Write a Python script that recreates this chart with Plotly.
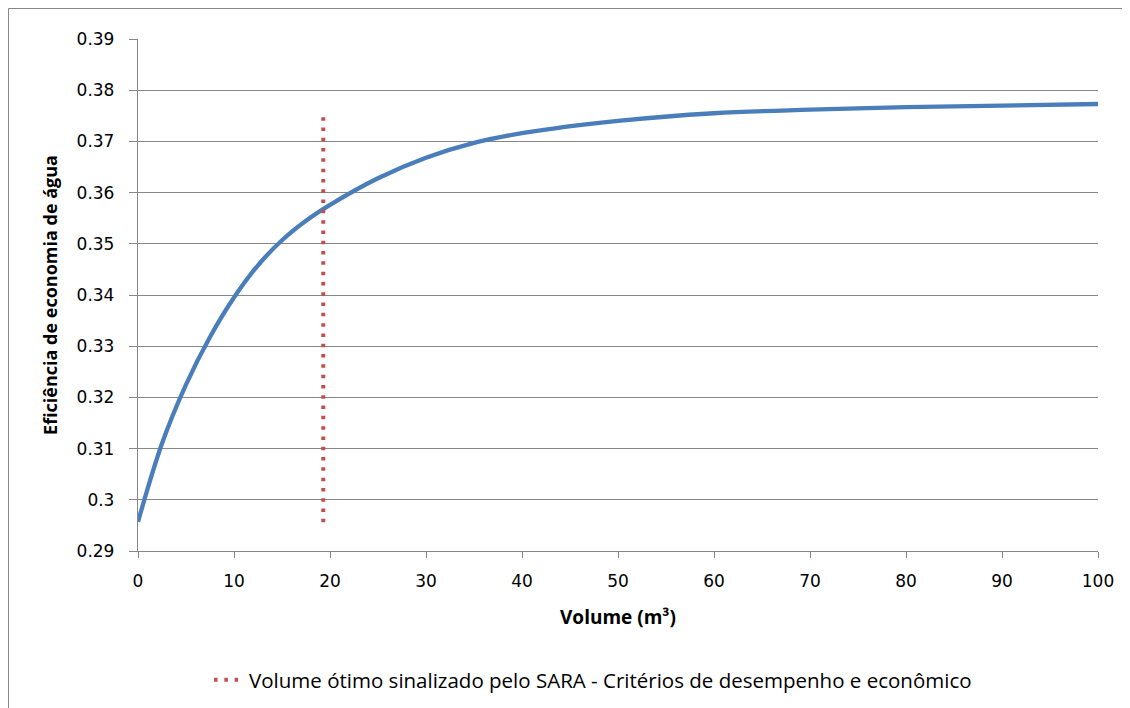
import plotly.graph_objects as go

# Curve
volume = [0, 2.5, 5, 7.5, 10, 12.5, 15, 17.5, 20, 25, 30, 35, 40, 50, 60, 70, 80, 90, 100]
eficiencia = [0.2957, 0.3110, 0.3225, 0.3318, 0.3395, 0.3458, 0.3507, 0.3545, 0.3576,
              0.3628, 0.3668, 0.3697, 0.3716, 0.3740, 0.3755, 0.3762, 0.3767, 0.3770, 0.3773]

# Volume otimo (linha vertical pontilhada)
vol_otimo = [19.3, 19.3]
vol_otimo_y = [0.2956, 0.3760]

y_ticks = [0.29, 0.30, 0.31, 0.32, 0.33, 0.34, 0.35, 0.36, 0.37, 0.38, 0.39]
y_tick_labels = ['0.29', '0.3', '0.31', '0.32', '0.33', '0.34', '0.35', '0.36', '0.37', '0.38', '0.39']
x_ticks = [0, 10, 20, 30, 40, 50, 60, 70, 80, 90, 100]

grid = '#878787'

data = [go.Scatter(x=volume, y=eficiencia, mode='lines', showlegend=False,
                   line=dict(color='#4a7ebb', width=4.3, shape='spline')),
        go.Scatter(x=vol_otimo, y=vol_otimo_y, mode='lines',
                   name='Volume ótimo sinalizado pelo SARA - Critérios de desempenho e econômico',
                   line=dict(color='#c0504d', width=4, dash='3.5px,6.8px'))]

# the page body adds an 8px offset, so the figure is 8px smaller than the window
layout = go.Layout(
    width=1122, height=700,
    margin=dict(l=130, r=32, t=31, b=157, autoexpand=False),
    plot_bgcolor='white', paper_bgcolor='white',
    font=dict(family='DejaVu Sans', size=17, color='black'),
    xaxis=dict(range=[0, 100], tickvals=x_ticks, showgrid=False, zeroline=False,
               showline=True, linecolor=grid, linewidth=1.3,
               ticks='outside', ticklen=6, tickcolor=grid, tickwidth=1.3,
               ticklabelstandoff=8,
               tickfont=dict(family='DejaVu Sans', size=17),
               title=dict(text='<b>Volume (m³)</b>', standoff=21,
                          font=dict(family='Open Sans', size=19))),
    yaxis=dict(range=[0.29, 0.39], tickvals=y_ticks, ticktext=y_tick_labels,
               showgrid=True, gridcolor=grid, gridwidth=1.3, zeroline=False,
               showline=True, linecolor=grid, linewidth=1.3,
               ticks='outside', ticklen=8, tickcolor=grid, tickwidth=1.3,
               ticklabelstandoff=11,
               tickfont=dict(family='DejaVu Sans', size=17),
               title=dict(text='<b>Eficiência de economia de água</b>', standoff=14,
                          font=dict(family='Open Sans', size=18))),
    showlegend=True,
    legend=dict(x=0.474, y=0.040, yref='container', xanchor='center', yanchor='middle',
                orientation='h', font=dict(family='Open Sans', size=20.5),
                bgcolor='rgba(0,0,0,0)'),
    shapes=[dict(type='rect', xref='paper', yref='paper',
                 x0=-0.1349, x1=1.06, y0=-0.36, y1=1.0596,
                 line=dict(color=grid, width=1))],
)

fig = go.Figure(data=data, layout=layout)
fig.write_html('out.html')
